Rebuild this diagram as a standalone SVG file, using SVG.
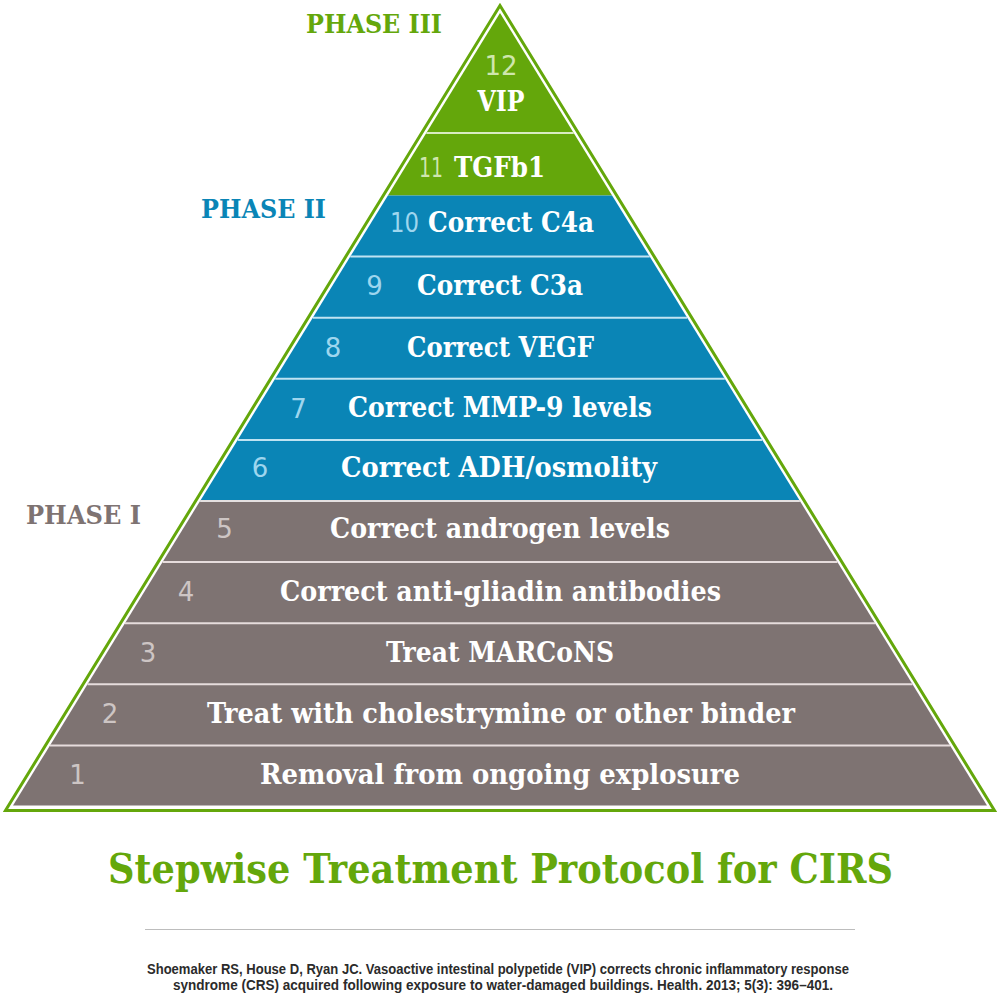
<svg xmlns="http://www.w3.org/2000/svg" width="1000" height="993" viewBox="0 0 1000 993">
  <style>
    .lbl { font-family: "DejaVu Serif", "Liberation Serif", serif; font-weight: bold; font-size: 27px; font-stretch: condensed; fill: #ffffff; text-anchor: middle; }
    .num { font-family: "DejaVu Sans", "Liberation Sans", sans-serif; font-weight: normal; font-size: 26px; text-anchor: middle; }
    .ng { fill: #cfe6ad; }
    .nb { fill: #9ed6ee; }
    .nk { fill: #cdc5c4; }
    .g { fill: #64a70b; }
    .b { fill: #0a85b6; }
    .k { fill: #7e7372; }
    .phase { font-family: "DejaVu Serif", "Liberation Serif", serif; font-weight: bold; font-size: 26px; }
    .sep { stroke-width: 2; fill: none; }
    .cite { font-family: "Liberation Sans", Arial, sans-serif; font-weight: bold; font-size: 14px; font-stretch: condensed; fill: #2b2b2b; text-anchor: middle; }
  </style>
  <rect width="1000" height="993" fill="#ffffff"/>

  <!-- outer green outline -->
  <polygon id="outline" points="500,5.5 5.5,810.5 994.5,810.5" fill="none" stroke="#64a70b" stroke-width="3"/>

  <g id="band12">
    <polygon class="g" points="500,13 573.7,133 426.3,133"/>
    <text class="num ng" x="501" y="75">12</text>
    <text class="lbl" x="501" y="111" textLength="47" lengthAdjust="spacingAndGlyphs">VIP</text>
  </g>
  <g id="band11">
    <polygon class="g" points="426.3,133 573.7,133 612.1,195.5 387.9,195.5"/>
    <text class="num ng" x="431" y="177" textLength="24" lengthAdjust="spacingAndGlyphs">11</text>
    <text class="lbl" x="454" y="177" textLength="91" lengthAdjust="spacingAndGlyphs" style="text-anchor:start">TGFb1</text>
  </g>
  <g id="band10">
    <polygon class="b" points="387.9,195.5 612.1,195.5 649.7,256.6 350.3,256.6"/>
    <text class="num nb" x="404.5" y="232" textLength="29" lengthAdjust="spacingAndGlyphs">10</text>
    <text class="lbl" x="511" y="232" textLength="166" lengthAdjust="spacingAndGlyphs">Correct C4a</text>
  </g>
  <g id="band9">
    <polygon class="b" points="350.3,256.6 649.7,256.6 687.2,317.7 312.8,317.7"/>
    <text class="num nb" x="374.5" y="295">9</text>
    <text class="lbl" x="500" y="295" textLength="166" lengthAdjust="spacingAndGlyphs">Correct C3a</text>
  </g>
  <g id="band8">
    <polygon class="b" points="312.8,317.7 687.2,317.7 724.8,378.8 275.2,378.8"/>
    <text class="num nb" x="333" y="357">8</text>
    <text class="lbl" x="500.5" y="357" textLength="187" lengthAdjust="spacingAndGlyphs">Correct VEGF</text>
  </g>
  <g id="band7">
    <polygon class="b" points="275.2,378.8 724.8,378.8 762.3,439.9 237.7,439.9"/>
    <text class="num nb" x="298.5" y="418">7</text>
    <text class="lbl" x="500" y="417" textLength="304" lengthAdjust="spacingAndGlyphs">Correct MMP-9 levels</text>
  </g>
  <g id="band6">
    <polygon class="b" points="237.7,439.9 762.3,439.9 799.9,501 200.1,501"/>
    <text class="num nb" x="260" y="477">6</text>
    <text class="lbl" x="499" y="477" textLength="316" lengthAdjust="spacingAndGlyphs">Correct ADH/osmolity</text>
  </g>
  <g id="band5">
    <polygon class="k" points="200.1,501 799.9,501 837.4,562.1 162.6,562.1"/>
    <text class="num nk" x="224.5" y="538">5</text>
    <text class="lbl" x="500" y="538" textLength="340" lengthAdjust="spacingAndGlyphs">Correct androgen levels</text>
  </g>
  <g id="band4">
    <polygon class="k" points="162.6,562.1 837.4,562.1 875,623.2 125,623.2"/>
    <text class="num nk" x="186" y="601">4</text>
    <text class="lbl" x="500.5" y="601" textLength="441" lengthAdjust="spacingAndGlyphs">Correct anti-gliadin antibodies</text>
  </g>
  <g id="band3">
    <polygon class="k" points="125,623.2 875,623.2 912.5,684.3 87.5,684.3"/>
    <text class="num nk" x="148" y="662">3</text>
    <text class="lbl" x="500" y="662" textLength="228" lengthAdjust="spacingAndGlyphs">Treat MARCoNS</text>
  </g>
  <g id="band2">
    <polygon class="k" points="87.5,684.3 912.5,684.3 950,745.4 50,745.4"/>
    <text class="num nk" x="110" y="723">2</text>
    <text class="lbl" x="501" y="723" textLength="588" lengthAdjust="spacingAndGlyphs">Treat with cholestrymine or other binder</text>
  </g>
  <g id="band1">
    <polygon class="k" points="50,745.4 950,745.4 987,805.5 13,805.5"/>
    <text class="num nk" x="77.5" y="784">1</text>
    <text class="lbl" x="500" y="784" textLength="480" lengthAdjust="spacingAndGlyphs">Removal from ongoing explosure</text>
  </g>

  <g id="connectors">
    <line class="sep" x1="426.3" y1="133" x2="573.7" y2="133" stroke="#d9ecc2"/>
    <line class="sep" x1="350.3" y1="256.6" x2="649.7" y2="256.6" stroke="#bfe3f2"/>
    <line class="sep" x1="312.8" y1="317.7" x2="687.2" y2="317.7" stroke="#bfe3f2"/>
    <line class="sep" x1="275.2" y1="378.8" x2="724.8" y2="378.8" stroke="#bfe3f2"/>
    <line class="sep" x1="237.7" y1="439.9" x2="762.3" y2="439.9" stroke="#bfe3f2"/>
    <line class="sep" x1="200.1" y1="501" x2="799.9" y2="501" stroke="#e4e0e0"/>
    <line class="sep" x1="162.6" y1="562.1" x2="837.4" y2="562.1" stroke="#e6dcdc"/>
    <line class="sep" x1="125" y1="623.2" x2="875" y2="623.2" stroke="#e6dcdc"/>
    <line class="sep" x1="87.5" y1="684.3" x2="912.5" y2="684.3" stroke="#e6dcdc"/>
    <line class="sep" x1="50" y1="745.4" x2="950" y2="745.4" stroke="#e6dcdc"/>
  </g>

  <g id="phases">
    <text class="phase g" x="306" y="33" textLength="136" lengthAdjust="spacingAndGlyphs">PHASE III</text>
    <text class="phase b" x="201" y="218" textLength="125" lengthAdjust="spacingAndGlyphs">PHASE II</text>
    <text class="phase k" x="26" y="524" textLength="115" lengthAdjust="spacingAndGlyphs">PHASE I</text>
  </g>

  <g id="title">
    <text x="108" y="883" textLength="785" lengthAdjust="spacingAndGlyphs" style="font-family:'DejaVu Serif','Liberation Serif',serif;font-weight:bold;font-size:41px;fill:#64a70b">Stepwise Treatment Protocol for CIRS</text>
  </g>

  <line x1="145" y1="929.5" x2="855" y2="929.5" stroke="#bdbdbd" stroke-width="1"/>

  <g id="citation">
    <text class="cite" x="498" y="974" textLength="702" lengthAdjust="spacingAndGlyphs">Shoemaker RS, House D, Ryan JC. Vasoactive intestinal polypetide (VIP) corrects chronic inflammatory response</text>
    <text class="cite" x="503" y="990" textLength="660" lengthAdjust="spacingAndGlyphs">syndrome (CRS) acquired following exposure to water-damaged buildings. Health. 2013; 5(3): 396–401.</text>
  </g>
</svg>
